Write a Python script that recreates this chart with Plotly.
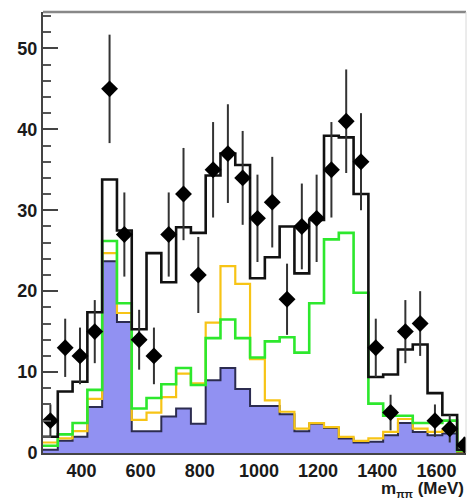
import plotly.graph_objects as go

# bin lower edges (MeV), bin width 50 MeV
bin_low = [270, 320, 370, 420, 470, 520, 570, 620, 670, 720, 770, 820, 870, 920, 970,
           1020, 1070, 1120, 1170, 1220, 1270, 1320, 1370, 1420, 1470, 1520, 1570, 1620, 1670]
bin_width = 50

data_counts = [4, 13, 12, 15, 45, 27, 14, 12, 27, 32, 22, 35, 37, 34, 29, 31, 19, 28, 29,
               35, 41, 36, 13, 5, 15, 16, 4, 3, 1]
data_err = [2.0, 3.6, 3.5, 3.9, 6.7, 5.2, 3.7, 3.5, 5.2, 5.7, 4.7, 5.9, 6.1, 5.8, 5.4, 5.6,
            4.4, 5.3, 5.4, 5.9, 6.4, 6.0, 3.6, 2.2, 3.9, 4.0, 2.0, 1.7, 1.0]

total_fit = [2.0, 7.6, 8.8, 17.4, 33.8, 27.5, 15.3, 24.7, 21.1, 27.9, 27.2, 34.3, 37.0, 35.6,
             21.6, 24.2, 28.0, 22.2, 28.8, 39.2, 39.0, 32.0, 9.4, 9.7, 12.8, 13.4, 7.4, 4.7, 0.4]
green_comp = [0.9, 2.3, 3.7, 7.8, 26.2, 18.5, 5.5, 6.8, 8.5, 10.5, 8.4, 14.2, 16.5, 14.2,
              11.8, 13.8, 14.3, 12.4, 18.5, 26.4, 27.2, 19.8, 6.1, 4.6, 4.6, 3.7, 3.7, 4.0, 0.3]
yellow_comp = [1.3, 1.8, 2.7, 6.7, 24.7, 17.3, 4.1, 5.0, 6.9, 9.8, 8.6, 16.1, 23.1, 20.9,
               11.6, 6.5, 5.1, 3.0, 3.7, 3.2, 2.0, 1.5, 1.8, 2.6, 4.2, 3.0, 2.6, 2.8, 0.2]
blue_comp = [0.4, 1.5, 2.0, 5.7, 23.7, 16.2, 2.7, 2.7, 4.5, 5.5, 3.6, 9.0, 10.5, 7.9, 5.8,
             5.8, 4.8, 2.7, 3.6, 3.1, 1.8, 1.3, 1.4, 2.2, 3.7, 2.6, 2.2, 2.4, 0.1]

x_ticks = [400, 600, 800, 1000, 1200, 1400, 1600]
y_ticks = [0, 10, 20, 30, 40, 50]

step_x = bin_low + [bin_low[-1] + bin_width]
centers = [b + bin_width / 2 for b in bin_low]


def step_y(vals):
    return list(vals) + [vals[-1]]


fig = go.Figure()

fig.add_trace(go.Scatter(x=step_x, y=step_y(blue_comp), mode="lines", line_shape="hv",
                         fill="tozeroy", fillcolor="#9191f2",
                         line=dict(color="#2c2c50", width=2), showlegend=False))
fig.add_trace(go.Scatter(x=step_x, y=step_y(yellow_comp), mode="lines", line_shape="hv",
                         line=dict(color="#f7c416", width=2.2), showlegend=False))
fig.add_trace(go.Scatter(x=step_x, y=step_y(green_comp), mode="lines", line_shape="hv",
                         line=dict(color="#2de82d", width=2.6), showlegend=False))
fig.add_trace(go.Scatter(x=step_x, y=step_y(total_fit), mode="lines", line_shape="hv",
                         line=dict(color="#111111", width=2.6), showlegend=False))
fig.add_trace(go.Scatter(x=centers, y=data_counts, mode="markers",
                         marker=dict(symbol="diamond", size=13, color="#000000"),
                         error_y=dict(type="data", array=data_err, visible=True,
                                      color="#333333", thickness=2, width=0),
                         showlegend=False, cliponaxis=True))

tickfont = dict(family="Liberation Sans, Arial, sans-serif", size=18, color="#1a1a1a",
                weight="bold")

fig.update_layout(
    width=467, height=501,
    margin=dict(l=43, r=1, t=12, b=48),
    paper_bgcolor="white", plot_bgcolor="white",
    xaxis=dict(range=[270, 1700], tickvals=x_ticks, ticks="", showgrid=False,
               zeroline=False, showline=True, linecolor="#444444", linewidth=2,
               tickfont=tickfont, ticklabelstandoff=0),
    yaxis=dict(range=[0, 54.5], tickvals=y_ticks, ticks="inside", ticklen=15,
               tickwidth=2, tickcolor="#444444", showgrid=False, zeroline=False,
               showline=True, linecolor="#444444", linewidth=2, tickfont=tickfont,
               minor=dict(dtick=2, ticks="inside", ticklen=8, tickwidth=2,
                          tickcolor="#555555")),
    shapes=[
        dict(type="line", xref="paper", yref="paper", x0=0, x1=1, y0=1, y1=1,
             line=dict(color="#888888", width=2.5)),
        dict(type="line", xref="paper", yref="paper", x0=1, x1=1, y0=0, y1=1,
             line=dict(color="#d8d8d8", width=1)),
    ],
    annotations=[
        dict(text="m<sub><span style='font-size:11px'>ππ</span></sub> (MeV)",
             xref="paper", yref="paper", x=1.0, y=-0.082,
             xanchor="right", yanchor="middle", showarrow=False,
             font=dict(family="Liberation Sans, Arial, sans-serif", size=17,
                       color="#1a1a1a", weight="bold")),
    ],
)

fig.write_html("out.html")
